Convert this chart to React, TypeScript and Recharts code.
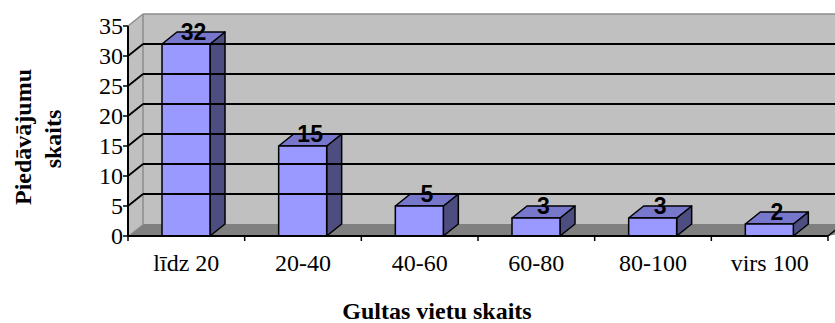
import { BarChart, Bar, XAxis, YAxis, ReferenceArea, ReferenceLine, LabelList } from "recharts"

const CATEGORIES = ["līdz 20", "20-40", "40-60", "60-80", "80-100", "virs 100"]
const OFFERS = [32, 15, 5, 3, 3, 2]
const Y_TICKS = [0, 5, 10, 15, 20, 25, 30, 35]
const GRID_VALUES = [5, 10, 15, 20, 25, 30]

const data = CATEGORIES.map((name, i) => ({ name, value: OFFERS[i] }))

// 3d depth of the walls and bars
const DX = 15
const DY = 12
const SERIF = "'Liberation Serif', 'Times New Roman', serif"
const SANS = "'Liberation Sans', Arial, sans-serif"

const Walls = (props: any) => {
  const { x, y, width, height } = props
  const b = y + height
  return (
    <g>
      <rect x={x + DX} y={y - DY} width={width + 40} height={height} fill="#c0c0c0" />
      <polygon points={`${x},${y} ${x + DX},${y - DY} ${x + DX},${b - DY} ${x},${b}`} fill="#c0c0c0" />
      <polygon points={`${x},${b} ${x + DX},${b - DY} ${x + width + DX + 40},${b - DY} ${x + width},${b}`} fill="#808080" />
      <line x1={x + DX} y1={y - DY} x2={x + width + 60} y2={y - DY} stroke="#8c8c8c" strokeWidth={1.5} />
      <line x1={x + DX} y1={y - DY} x2={x + DX} y2={b - DY} stroke="#8c8c8c" strokeWidth={1.5} />
      <line x1={x} y1={y} x2={x + DX} y2={y - DY} stroke="#8c8c8c" strokeWidth={1.5} />
      <line x1={x} y1={b} x2={x + DX} y2={b - DY} stroke="#a0a0a0" strokeWidth={1} />
      <line x1={x + width} y1={b} x2={x + width + DX} y2={b - DY} stroke="#000" strokeWidth={1.5} />
    </g>
  )
}

const GridLine = (props: any) => {
  const x1 = props.x1 ?? props.points?.[0]?.x
  const y1 = props.y1 ?? props.points?.[0]?.y
  const x2 = props.x2 ?? props.points?.[1]?.x
  return (
    <g>
      <line x1={x1} y1={y1} x2={x1 + DX} y2={y1 - DY} stroke="#000" strokeWidth={1.8} />
      <line x1={x1 + DX} y1={y1 - DY} x2={x2 + DX + 40} y2={y1 - DY} stroke="#000" strokeWidth={1.8} />
    </g>
  )
}

const Bar3D = (props: any) => {
  const { x, y, width, height } = props
  const b = y + height
  return (
    <g stroke="#000" strokeWidth={1.5} strokeLinejoin="round">
      <polygon points={`${x + width},${y} ${x + width + DX},${y - DY} ${x + width + DX},${b - DY} ${x + width},${b}`} fill="#4d4d80" />
      <polygon points={`${x},${y} ${x + DX},${y - DY} ${x + width + DX},${y - DY} ${x + width},${y}`} fill="#7777cc" />
      <rect x={x} y={y} width={width} height={height} fill="#9999ff" />
    </g>
  )
}

const BarValue = (props: any) => {
  const { x, y, width, value } = props
  return (
    <text x={x + width / 2 + DX / 2} y={y - DY + 8} textAnchor="middle" fontFamily={SANS} fontSize={23} fontWeight="bold" fill="#000">
      {value}
    </text>
  )
}

const XTick = (props: any) => {
  const { x, y, payload, index } = props
  const half = payload?.offset || 700 / 12
  return (
    <g>
      {index === 0 && <line x1={x - half} y1={y - 5} x2={x - half} y2={y} stroke="#000" strokeWidth={1.5} />}
      <line x1={x + half} y1={y - 5} x2={x + half} y2={y} stroke="#000" strokeWidth={1.5} />
      <text x={x} y={y + 30} textAnchor="middle" fontFamily={SERIF} fontSize={24} fill="#000">
        {payload.value}
      </text>
    </g>
  )
}

const YTick = (props: any) => {
  const { x, y, payload } = props
  return (
    <text x={x + 2} y={y + 8} textAnchor="end" fontFamily={SERIF} fontSize={24} fill="#000">
      {payload.value}
    </text>
  )
}

const YTitle = () => (
  <g fontFamily={SERIF} fontSize={24} fontWeight="bold" fill="#000" textAnchor="middle">
    <text x={31} y={137} transform="rotate(-90, 31, 137)">Piedāvājumu</text>
    <text x={61} y={139} transform="rotate(-90, 61, 139)">skaits</text>
  </g>
)

const XTitle = () => (
  <text x={437} y={319} textAnchor="middle" fontFamily={SERIF} fontSize={24} fontWeight="bold" fill="#000">
    Gultas vietu skaits
  </text>
)

export default function App() {
  return (
    <div style={{ position: "absolute", left: 0, top: 0, width: 835, height: 323, background: "#fff" }}>
      <BarChart width={835} height={323} data={data} margin={{ top: 26, right: 7, bottom: 0, left: 0 }}>
        <XAxis
          dataKey="name"
          height={87}
          axisLine={{ stroke: "#000", strokeWidth: 2 }}
          tickLine={false}
          tickSize={5}
          tickMargin={0}
          tick={<XTick />}
          interval={0}
          label={{ content: <XTitle /> }}
        />
        <YAxis
          width={128}
          domain={[0, 35]}
          ticks={Y_TICKS}
          interval={0}
          axisLine={{ stroke: "#000", strokeWidth: 2 }}
          tickLine={{ stroke: "#000", strokeWidth: 1.5 }}
          tickSize={5}
          tick={<YTick />}
          label={{ content: <YTitle /> }}
        />
        <ReferenceArea y1={0} y2={35} ifOverflow="visible" shape={<Walls />} />
        {GRID_VALUES.map((v) => (
          <ReferenceLine key={v} y={v} ifOverflow="visible" shape={<GridLine />} />
        ))}
        <Bar dataKey="value" barSize={48} shape={<Bar3D />} isAnimationActive={false}>
          <LabelList dataKey="value" content={<BarValue />} />
        </Bar>
      </BarChart>
    </div>
  )
}
